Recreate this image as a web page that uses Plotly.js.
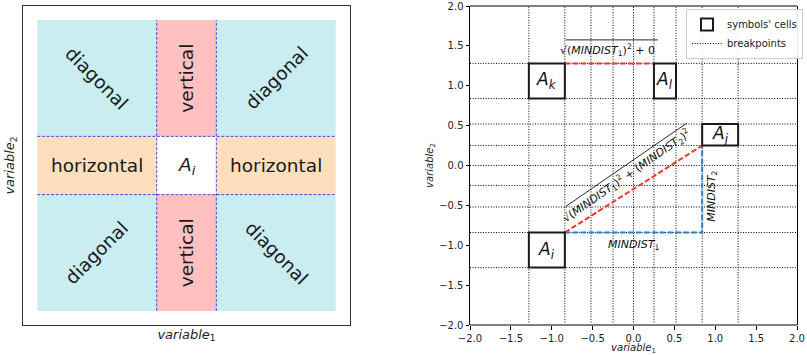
<!DOCTYPE html>
<html>
<head>
<meta charset="utf-8">
<script src="https://cdn.plot.ly/plotly-3.0.1.min.js"></script>
<style>html,body{margin:0;padding:0;background:#fff;}#chart{width:807px;height:355px;}</style>
</head>
<body>
<div id="chart"></div>
<script>
// ---------- data ----------
// left panel: schematic grid around the symbol cell A_i
const schemeEdges = [-2.5, -0.5, 0.5, 2.5];
const schemeRange = [-2.74, 2.74];
const schemeLabels = [
  ['diagonal', 'vertical', 'diagonal'],
  ['horizontal', '<i>A</i><sub><i>i</i></sub>', 'horizontal'],
  ['diagonal', 'vertical', 'diagonal']
];
const schemeKinds = [
  ['diagonal', 'vertical', 'diagonal'],
  ['horizontal', 'center', 'horizontal'],
  ['diagonal', 'vertical', 'diagonal']
];

// right panel: breakpoints and symbols' cells
const axisRange = [-2, 2];
const tickVals = [-2.0, -1.5, -1.0, -0.5, 0.0, 0.5, 1.0, 1.5, 2.0];
const breakpoints = [-1.28, -0.84, -0.52, -0.25, 0, 0.25, 0.52, 0.84, 1.28];
const cellNames = ['k', 'l', 'j', 'i'];
const cellXLo = [-1.28, 0.25, 0.84, -1.28];
const cellXHi = [-0.84, 0.52, 1.28, -0.84];
const cellYLo = [0.84, 0.84, 0.25, -1.28];
const cellYHi = [1.28, 1.28, 0.52, -0.84];
// distance segments (start / end points)
const redX0 = [-0.84, -0.84], redY0 = [1.28, -0.84];
const redX1 = [0.25, 0.84],  redY1 = [1.28, 0.25];
const blueX = [-0.84, 0.84, 0.84];
const blueY = [-0.84, -0.84, 0.25];

// ---------- styles ----------
const FONT = 'DejaVu Sans';
const kindColor = {diagonal: '#c9edf0', vertical: '#ffc0c0', horizontal: '#fddfbe', center: '#ffffff'};
const kindAngle = [[45, -90, -45], [0, 0, 0], [-45, -90, 45]];

const traces = [];
const shapes = [];
const annotations = [];

// left panel regions
for (let r = 0; r < 3; r++) {
  for (let c = 0; c < 3; c++) {
    const x0 = schemeEdges[c], x1 = schemeEdges[c + 1];
    const y1 = schemeEdges[3 - r], y0 = schemeEdges[2 - r];
    shapes.push({type: 'rect', xref: 'x', yref: 'y', x0: x0, x1: x1, y0: y0, y1: y1,
      fillcolor: kindColor[schemeKinds[r][c]], line: {width: 0}, layer: 'below'});
    annotations.push({xref: 'x', yref: 'y', x: (x0 + x1) / 2, y: (y0 + y1) / 2,
      text: schemeLabels[r][c], showarrow: false, textangle: kindAngle[r][c],
      font: {family: FONT, size: 18.5, color: '#1a1a1a'}});
  }
}
// left panel dashed boundaries
{
  const lx = [], ly = [];
  const inner = schemeEdges.slice(1, 3);
  inner.forEach(v => { lx.push(v, v, null); ly.push(schemeEdges[0], schemeEdges[3], null); });
  inner.forEach(v => { lx.push(schemeEdges[0], schemeEdges[3], null); ly.push(v, v, null); });
  traces.push({x: lx, y: ly, xaxis: 'x', yaxis: 'y', mode: 'lines', showlegend: false, hoverinfo: 'skip',
    line: {color: '#4a4ad0', width: 1, dash: '3px,1.6px'}});
}

// right panel: breakpoints
{
  const bx = [], by = [];
  breakpoints.forEach(b => { bx.push(b, b, null); by.push(axisRange[0], axisRange[1], null); });
  breakpoints.forEach(b => { bx.push(axisRange[0], axisRange[1], null); by.push(b, b, null); });
  traces.push({x: bx, y: by, xaxis: 'x2', yaxis: 'y2', mode: 'lines', name: 'breakpoints',
    legendrank: 2, hoverinfo: 'skip', line: {color: '#000000', width: 1, dash: '1px,1.6px'}});
}
// distance segments
{
  const rx = [], ry = [];
  for (let i = 0; i < redX0.length; i++) { rx.push(redX0[i], redX1[i], null); ry.push(redY0[i], redY1[i], null); }
  traces.push({x: blueX, y: blueY, xaxis: 'x2', yaxis: 'y2', mode: 'lines', showlegend: false, hoverinfo: 'skip',
    line: {color: '#2a80c6', width: 2, dash: '5.5px,2.4px'}});
  traces.push({x: rx, y: ry, xaxis: 'x2', yaxis: 'y2', mode: 'lines', showlegend: false, hoverinfo: 'skip',
    line: {color: '#e8392c', width: 2, dash: '5.5px,2.4px'}});
}
// symbols' cells (shapes, first one carries the legend entry)
for (let i = 0; i < cellNames.length; i++) {
  shapes.push({type: 'rect', xref: 'x2', yref: 'y2', x0: cellXLo[i], x1: cellXHi[i], y0: cellYLo[i], y1: cellYHi[i],
    fillcolor: '#ffffff', line: {color: '#1a1a1a', width: 2}, layer: 'above',
    name: "symbols' cells", showlegend: i === 0, legendrank: 1, legendgroup: 'cells'});
  annotations.push({xref: 'x2', yref: 'y2', x: (cellXLo[i] + cellXHi[i]) / 2, y: (cellYLo[i] + cellYHi[i]) / 2,
    text: '<i>A</i><sub><i>' + cellNames[i] + '</i></sub>', showarrow: false,
    font: {family: FONT, size: 17, color: '#111'}});
}
const md1 = '<i>MINDIST</i><sub>1</sub>';
const md2 = '<i>MINDIST</i><sub>2</sub>';
annotations.push({xref: 'x2', yref: 'y2', x: (blueX[0] + blueX[1]) / 2, y: blueY[0] - 0.04, yanchor: 'top',
  text: md1, showarrow: false, font: {family: FONT, size: 11, color: '#111'}});
annotations.push({xref: 'x2', yref: 'y2', x: blueX[1] + 0.12, y: (blueY[1] + blueY[2]) / 2 - 0.085,
  text: md2, showarrow: false, textangle: -90, font: {family: FONT, size: 11, color: '#111'}});
// square-root labels (radical bar drawn as a thin line above the text)
annotations.push({xref: 'x2', yref: 'y2', x: (redX0[0] + redX1[0]) / 2 - 0.02, y: redY0[0] + 0.17,
  text: '√(' + md1 + ')<sup>2</sup> + 0',
  showarrow: false, font: {family: FONT, size: 11, color: '#111'}});
shapes.push({type: 'line', xref: 'x2', yref: 'y2', x0: redX0[0] + 0.01, x1: redX1[0] + 0.05,
  y0: redY0[0] + 0.295, y1: redY1[0] + 0.295, line: {color: '#111', width: 0.9}, layer: 'above'});
annotations.push({xref: 'x2', yref: 'y2', x: (redX0[1] + redX1[1]) / 2 - 0.085, y: (redY0[1] + redY1[1]) / 2 + 0.165,
  text: '√(' + md1 + ')<sup>2</sup> + (' + md2 + ')<sup>2</sup>',
  showarrow: false, textangle: -35, font: {family: FONT, size: 11, color: '#111'}});
shapes.push({type: 'line', xref: 'x2', yref: 'y2', x0: redX0[1] + 0.01, x1: redX1[1] - 0.19,
  y0: redY0[1] + 0.325, y1: redY1[1] + 0.28, line: {color: '#111', width: 0.9}, layer: 'above'});

// right panel frame: black top, gray bottom
shapes.push({type: 'line', xref: 'x2 domain', yref: 'y2 domain', x0: 0, x1: 1, y0: 1, y1: 1, line: {color: '#000', width: 1}});
shapes.push({type: 'line', xref: 'x2 domain', yref: 'y2 domain', x0: 0, x1: 1, y0: 0, y1: 0, line: {color: '#808080', width: 2}});

const titleVar1 = '<i>variable</i><sub>1</sub>';
const titleVar2 = '<i>variable</i><sub>2</sub>';
const yDom = [1 - 325 / 355, 1 - 6 / 355];

const layout = {
  width: 807, height: 355,
  margin: {l: 0, r: 0, t: 0, b: 0},
  paper_bgcolor: '#ffffff', plot_bgcolor: 'rgba(0,0,0,0)',
  font: {family: FONT, size: 10, color: '#222'},
  showlegend: true,
  legend: {x: 686 / 807, y: 1 - 9 / 355, xanchor: 'left', yanchor: 'top', traceorder: 'normal',
    bgcolor: 'rgba(255,255,255,0.9)', bordercolor: '#cccccc', borderwidth: 1,
    font: {family: FONT, size: 10, color: '#222'}, tracegroupgap: 0, itemwidth: 30},
  xaxis: {domain: [23 / 807, 350 / 807], range: schemeRange, showgrid: false, zeroline: false,
    showticklabels: false, ticks: '', showline: true, mirror: true, linecolor: '#333', linewidth: 1.3,
    fixedrange: true,
    title: {text: titleVar1, standoff: 4, font: {family: FONT, size: 13, color: '#222'}}},
  yaxis: {domain: yDom, range: schemeRange, showgrid: false, zeroline: false,
    showticklabels: false, ticks: '', showline: true, mirror: true, linecolor: '#333', linewidth: 1.3,
    fixedrange: true,
    title: {text: titleVar2, standoff: 4, font: {family: FONT, size: 13, color: '#222'}}},
  xaxis2: {domain: [470 / 807, 797 / 807], range: axisRange, anchor: 'y2', showgrid: false, zeroline: false,
    tickvals: tickVals, tickformat: '.1f', ticks: 'outside', ticklen: 3.5, tickwidth: 1, tickcolor: '#000',
    showline: false, fixedrange: true, tickfont: {family: FONT, size: 10, color: '#222'},
    title: {text: titleVar1, standoff: 2, font: {family: FONT, size: 10, color: '#222'}}},
  yaxis2: {domain: yDom, range: axisRange, anchor: 'x2', showgrid: false, zeroline: false,
    tickvals: tickVals, tickformat: '.1f', ticks: 'outside', ticklen: 3.5, tickwidth: 1, tickcolor: '#000',
    showline: true, mirror: true, linecolor: '#000', linewidth: 1, fixedrange: true,
    tickfont: {family: FONT, size: 10, color: '#222'},
    title: {text: titleVar2, standoff: 3, font: {family: FONT, size: 10, color: '#222'}}},
  shapes: shapes,
  annotations: annotations
};

Plotly.newPlot('chart', traces, layout, {staticPlot: true, displayModeBar: false});
</script>
</body>
</html>
